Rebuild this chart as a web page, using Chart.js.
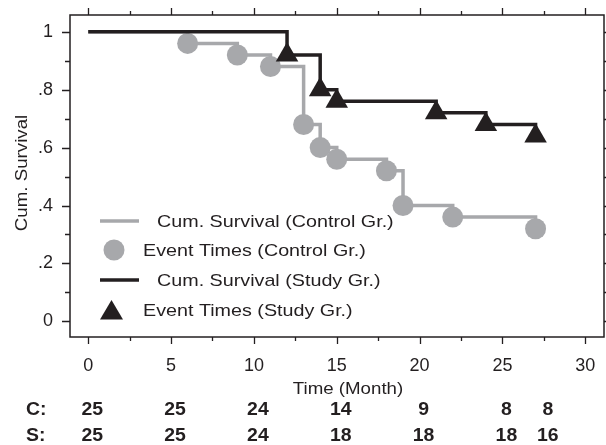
<!DOCTYPE html>
<html>
<head>
<meta charset="utf-8">
<script src="https://cdn.jsdelivr.net/npm/chart.js@4"></script>
<style>
  html, body { margin: 0; padding: 0; background: #fff; }
  canvas { display: block; }
</style>
</head>
<body>
<canvas id="kmChart" width="606" height="445"></canvas>
<script>
// Kaplan-Meier data
const controlTimes = [0, 6, 9, 11, 13, 14, 15, 18, 19, 22, 27];
const controlSurv = [1, 0.96, 0.92, 0.88, 0.68, 0.60, 0.56, 0.52, 0.40, 0.36, 0.32];
const studyTimes = [0, 12, 14, 15, 21, 24, 27];
const studySurv = [1, 0.92, 0.80, 0.76, 0.72, 0.68, 0.64];

const xTicks = [0, 5, 10, 15, 20, 25, 30];
const xMinorTicks = [2.5, 7.5, 12.5, 17.5, 22.5, 27.5];
const yTicks = [0, 0.2, 0.4, 0.6, 0.8, 1];
const yTickLabels = ["0", ".2", ".4", ".6", ".8", "1"];
const yMinorTicks = [0.1, 0.3, 0.5, 0.7, 0.9];

// numbers at risk
const riskTimes = [0, 5, 10, 15, 20, 25, 27.5];
const riskControl = [25, 25, 24, 14, 9, 8, 8];
const riskStudy = [25, 25, 24, 18, 18, 18, 16];

const GRAY = "#a7a8ab";
const INK = "#231f20";
const FONT = "'Liberation Sans', Arial, sans-serif";
const PLOT_RIGHT = 604;

function toPoints(xs, ys) {
  return xs.map(function (x, i) { return { x: x, y: ys[i] }; });
}

// text a bit wider than the font, like the original
function wideText(ctx, txt, x, y, sx) {
  ctx.save();
  ctx.translate(x, y);
  ctx.scale(sx, 1);
  ctx.fillText(txt, 0, 0);
  ctx.restore();
}

// chart.js keeps some room on the right, push the plot edge back out
const stretchPlugin = {
  id: "stretch",
  afterLayout: function (chart) {
    const xs = chart.scales.x;
    chart.chartArea.right = PLOT_RIGHT;
    chart.chartArea.width = PLOT_RIGHT - chart.chartArea.left;
    xs.right = PLOT_RIGHT;
    xs.width = PLOT_RIGHT - xs.left;
    xs.configure();
  }
};

// frame, tick marks, legend, axis titles and at-risk table
const extrasPlugin = {
  id: "extras",
  afterDraw: function (chart) {
    const ctx = chart.ctx;
    const a = chart.chartArea;
    const xs = chart.scales.x;
    const ys = chart.scales.y;
    ctx.save();
    ctx.strokeStyle = INK;
    ctx.lineWidth = 1.5;
    ctx.strokeRect(a.left, a.top, a.right - a.left, a.bottom - a.top);

    ctx.lineWidth = 1.3;
    ctx.beginPath();
    xTicks.forEach(function (v) {
      const px = Math.round(xs.getPixelForValue(v)) + 0.5;
      ctx.moveTo(px, a.top); ctx.lineTo(px, a.top - 7);
      ctx.moveTo(px, a.bottom); ctx.lineTo(px, a.bottom + 7);
    });
    xMinorTicks.forEach(function (v) {
      const px = Math.round(xs.getPixelForValue(v)) + 0.5;
      ctx.moveTo(px, a.top); ctx.lineTo(px, a.top - 4);
      ctx.moveTo(px, a.bottom); ctx.lineTo(px, a.bottom + 4);
    });
    yTicks.forEach(function (v) {
      const py = Math.round(ys.getPixelForValue(v)) + 0.5;
      ctx.moveTo(a.left, py); ctx.lineTo(a.left - 8, py);
      ctx.moveTo(a.right, py); ctx.lineTo(a.right + 8, py);
    });
    yMinorTicks.forEach(function (v) {
      const py = Math.round(ys.getPixelForValue(v)) + 0.5;
      ctx.moveTo(a.left, py); ctx.lineTo(a.left - 5, py);
      ctx.moveTo(a.right, py); ctx.lineTo(a.right + 5, py);
    });
    ctx.stroke();

    // legend
    ctx.fillStyle = INK;
    ctx.font = "17px " + FONT;
    ctx.textBaseline = "middle";
    ctx.textAlign = "left";
    ctx.lineWidth = 3.5;
    ctx.strokeStyle = GRAY;
    ctx.beginPath(); ctx.moveTo(100, 221); ctx.lineTo(139, 221); ctx.stroke();
    wideText(ctx, "Cum. Survival (Control Gr.)", 157, 222, 1.16);
    ctx.fillStyle = GRAY;
    ctx.beginPath(); ctx.arc(114, 250, 10.5, 0, Math.PI * 2); ctx.fill();
    ctx.fillStyle = INK;
    wideText(ctx, "Event Times (Control Gr.)", 143, 251, 1.16);
    ctx.strokeStyle = INK;
    ctx.beginPath(); ctx.moveTo(100, 280); ctx.lineTo(139, 280); ctx.stroke();
    wideText(ctx, "Cum. Survival (Study Gr.)", 157, 281, 1.16);
    ctx.beginPath();
    ctx.moveTo(111.5, 300); ctx.lineTo(123, 319.5); ctx.lineTo(100, 319.5); ctx.closePath();
    ctx.fill();
    wideText(ctx, "Event Times (Study Gr.)", 143, 311, 1.16);

    // axis titles
    ctx.textAlign = "center";
    wideText(ctx, "Time (Month)", 348, 389, 1.1);
    ctx.save();
    ctx.translate(22, 173);
    ctx.rotate(-Math.PI / 2);
    wideText(ctx, "Cum. Survival", 0, 0, 1.1);
    ctx.restore();

    // at-risk table
    ctx.font = "bold 18px " + FONT;
    ctx.textAlign = "left";
    wideText(ctx, "C:", 26, 410, 1.08);
    wideText(ctx, "S:", 26, 436, 1.08);
    ctx.textAlign = "center";
    riskTimes.forEach(function (t, i) {
      const px = xs.getPixelForValue(t) + 4;
      wideText(ctx, String(riskControl[i]), px, 410, 1.08);
      wideText(ctx, String(riskStudy[i]), px, 436, 1.08);
    });
    ctx.restore();
  }
};

const kmChart = new Chart(document.getElementById("kmChart"), {
  type: "line",
  data: {
    datasets: [
      {
        label: "Cum. Survival (Control Gr.)",
        data: toPoints(controlTimes, controlSurv),
        stepped: "before",
        borderColor: GRAY,
        borderWidth: 3.5,
        pointRadius: 0,
        fill: false,
        order: 4,
      },
      {
        label: "Event Times (Control Gr.)",
        data: toPoints(controlTimes.slice(1), controlSurv.slice(1)),
        showLine: false,
        pointStyle: "circle",
        pointRadius: 10.5,
        pointBackgroundColor: GRAY,
        pointBorderWidth: 0,
        order: 3,
      },
      {
        label: "Cum. Survival (Study Gr.)",
        data: toPoints(studyTimes, studySurv),
        stepped: "before",
        borderColor: INK,
        borderWidth: 3.5,
        pointRadius: 0,
        fill: false,
        order: 2,
      },
      {
        label: "Event Times (Study Gr.)",
        data: toPoints(studyTimes.slice(1), studySurv.slice(1)),
        showLine: false,
        pointStyle: "triangle",
        pointRadius: 13,
        pointBackgroundColor: INK,
        pointBorderWidth: 0,
        order: 1,
      },
    ],
  },
  options: {
    responsive: false,
    devicePixelRatio: 1,
    animation: false,
    layout: { padding: { top: 15, right: 2, left: 0, bottom: 0 } },
    plugins: { legend: { display: false }, tooltip: { enabled: false } },
    scales: {
      x: {
        type: "linear",
        min: -1.1,
        max: 31.13,
        grid: { display: false, drawTicks: false },
        border: { display: false },
        afterBuildTicks: function (s) { s.ticks = xTicks.map(function (v) { return { value: v }; }); },
        afterFit: function (s) { s.height = 108; s.paddingLeft = 0; s.paddingRight = 0; },
        ticks: {
          color: INK,
          font: { family: FONT, size: 18, lineHeight: "58px" },
          padding: 0,
          maxRotation: 0,
          callback: function (v) { return String(v); },
        },
      },
      y: {
        type: "linear",
        min: -0.054,
        max: 1.058,
        grid: { display: false, drawTicks: false },
        border: { display: false },
        afterBuildTicks: function (s) { s.ticks = yTicks.map(function (v) { return { value: v }; }); },
        afterFit: function (s) { s.width = 70; s.paddingTop = 0; s.paddingBottom = 0; },
        ticks: {
          color: INK,
          font: { family: FONT, size: 18 },
          padding: 17,
          callback: function (v, i) { return yTickLabels[i]; },
        },
      },
    },
  },
  plugins: [stretchPlugin, extrasPlugin],
});
</script>
</body>
</html>
